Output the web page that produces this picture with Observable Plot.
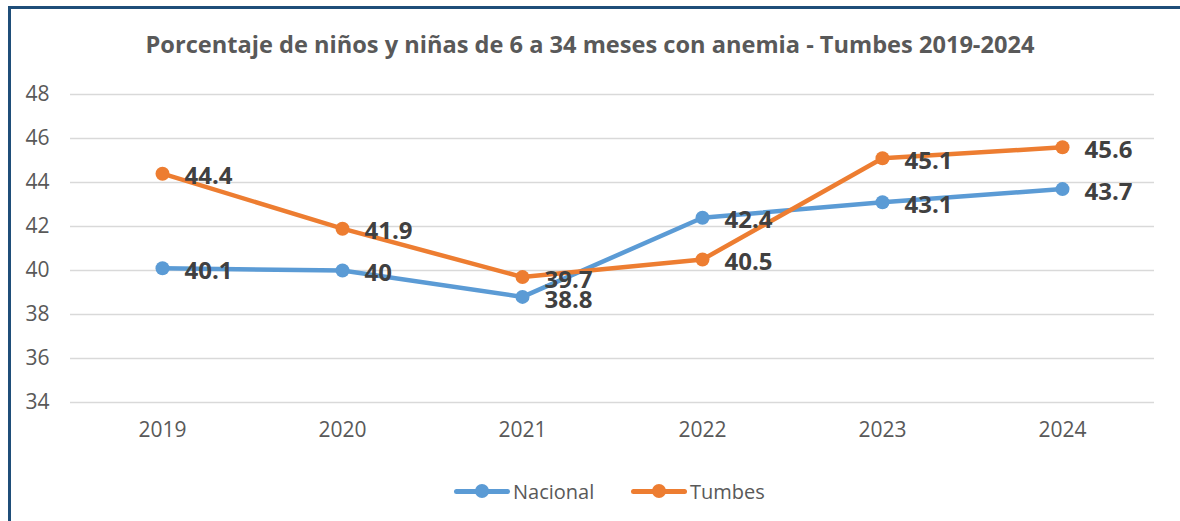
<!DOCTYPE html>
<html><head><meta charset="utf-8">
<script src="https://cdn.jsdelivr.net/npm/d3@7"></script>
<script src="https://cdn.jsdelivr.net/npm/@observablehq/plot@0.6"></script>
<style>
body{margin:0;background:#fff;}
#wrap{position:relative;width:1180px;height:521px;overflow:hidden;font-family:"Open Sans",sans-serif;}
.bt{position:absolute;left:8px;top:6px;width:1172px;height:3px;background:#1F4E79;}
.bl{position:absolute;left:8px;top:6px;width:3px;height:515px;background:#1F4E79;}
#title{position:absolute;left:0;width:1180px;top:28px;text-align:center;font-weight:700;font-size:23.6px;color:#595959;}
#chart{position:absolute;left:0;top:0;}
#legend{position:absolute;top:477px;left:0;width:1180px;height:28px;}
.item{position:absolute;top:0;display:flex;align-items:center;font-size:20px;color:#595959;height:28px;}
.sw{position:relative;width:56px;height:28px;margin-right:3px;}
.sw .ln{position:absolute;left:0;top:12px;width:56px;height:5px;border-radius:3px;}
.sw .dt{position:absolute;left:21px;top:7px;width:14px;height:14px;border-radius:50%;}
</style></head>
<body>
<div id="wrap">
<div class="bt"></div><div class="bl"></div>
<div id="chart"></div>
<div id="title">Porcentaje de niños y niñas de 6 a 34 meses con anemia - Tumbes 2019-2024</div>
<div id="legend"></div>
</div>
<script>
const years = ["2019","2020","2021","2022","2023","2024"];
const nacional = [40.1, 40, 38.8, 42.4, 43.1, 43.7];
const tumbes = [44.4, 41.9, 39.7, 40.5, 45.1, 45.6];
const seriesNames = ["Nacional","Tumbes"];
const seriesColors = ["#5B9BD5","#ED7D31"];
const yTicks = [34,36,38,40,42,44,46,48];

const data = [];
years.forEach((y,i)=>{ data.push({year:y, value:nacional[i], serie:"Nacional"}); });
years.forEach((y,i)=>{ data.push({year:y, value:tumbes[i], serie:"Tumbes"}); });

const chart = Plot.plot({
  width:1180, height:470,
  marginTop:94, marginBottom:68, marginLeft:70, marginRight:26,
  style:{fontFamily:"'Open Sans',sans-serif", background:"transparent"},
  x:{type:"point", domain:years, padding:0.5, label:null},
  y:{domain:[34,48], ticks:yTicks, label:null},
  color:{domain:seriesNames, range:seriesColors},
  marks:[
    Plot.ruleY(yTicks, {stroke:"#d9d9d9", strokeWidth:1.5}),
    Plot.axisY({ticks:yTicks, tickSize:0, tickPadding:21, fontSize:21, fill:"#595959", label:null}),
    Plot.axisX({tickSize:0, tickPadding:20, fontSize:21, fill:"#595959", label:null}),
    Plot.line(data, {x:"year", y:"value", z:"serie", stroke:"serie", strokeWidth:4.5, strokeLinejoin:"round"}),
    Plot.dot(data, {x:"year", y:"value", fill:"serie", r:7}),
    Plot.text(data, {x:"year", y:"value", text:d=>String(d.value), dx:22, dy:3, textAnchor:"start", fontSize:24, fontWeight:"bold", fill:"#404040"})
  ]
});
document.getElementById("chart").appendChild(chart);

const leg = document.getElementById("legend");
const lefts = [454, 631];
seriesNames.forEach((n,i)=>{
  const it = document.createElement("div");
  it.className="item"; it.style.left = lefts[i]+"px";
  it.innerHTML = `<div class="sw"><div class="ln" style="background:${seriesColors[i]}"></div><div class="dt" style="background:${seriesColors[i]}"></div></div><span>${n}</span>`;
  leg.appendChild(it);
});
</script>
</body></html>
